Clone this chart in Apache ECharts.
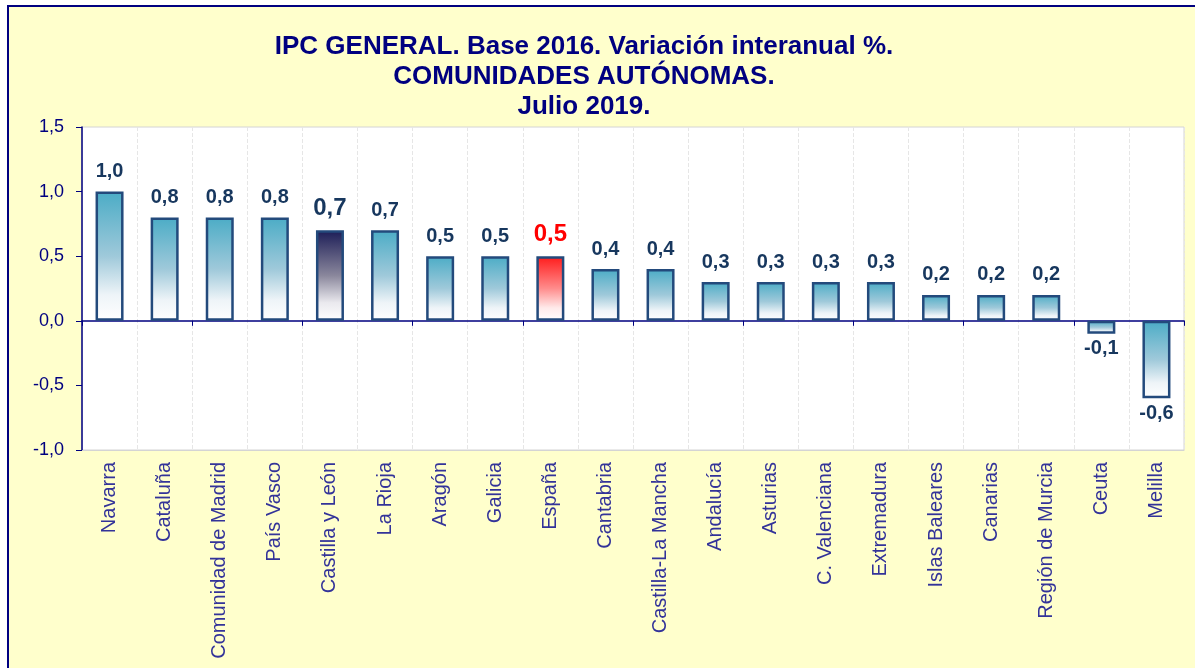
<!DOCTYPE html>
<html>
<head>
<meta charset="utf-8">
<script src="https://cdn.jsdelivr.net/npm/echarts@6/dist/echarts.min.js"></script>
<style>
  html, body { margin: 0; padding: 0; background: #ffffff; }
  #chart { width: 1195px; height: 668px; }
</style>
</head>
<body>
<div id="chart"></div>
<script>
// datos IPC julio 2019, variación interanual por CCAA
var categories = ['Navarra', 'Cataluña', 'Comunidad de Madrid', 'País Vasco', 'Castilla y León',
  'La Rioja', 'Aragón', 'Galicia', 'España', 'Cantabria', 'Castilla-La Mancha', 'Andalucía',
  'Asturias', 'C. Valenciana', 'Extremadura', 'Islas Baleares', 'Canarias', 'Región de Murcia',
  'Ceuta', 'Melilla'];
var values = [1.0, 0.8, 0.8, 0.8, 0.7, 0.7, 0.5, 0.5, 0.5, 0.4, 0.4, 0.3, 0.3, 0.3, 0.3, 0.2, 0.2, 0.2, -0.1, -0.6];
var titleLines = ['IPC GENERAL. Base 2016. Variación interanual %.', 'COMUNIDADES AUTÓNOMAS.', 'Julio 2019.'];

var FONT = '"Liberation Sans", Arial, sans-serif';

function grad(top, mid, bottom) {
    return new echarts.graphic.LinearGradient(0, 0, 0, 1, [
        { offset: 0, color: top },
        { offset: 0.5, color: mid },
        { offset: 0.8, color: bottom },
        { offset: 1, color: '#ffffff' }
    ]);
}

function fmt(v) {
    return v.toFixed(1).replace('.', ',');
}

var data = values.map(function(v, i) {
    var name = categories[i];
    var color = grad('#4BACC6', '#9FC9DA', '#EEF4F8');
    var lab = { color: '#17375E', fontSize: 20 };
    if (name === 'Castilla y León') {
        color = grad('#1C1D57', '#8A879C', '#EAE9EE');
        lab = { color: '#17375E', fontSize: 24 };
    }
    if (name === 'España') {
        color = grad('#FF1A1A', '#FF8C8C', '#FFEAEA');
        lab = { color: '#FF0000', fontSize: 24 };
    }
    lab.position = v < 0 ? 'bottom' : 'top';
    if (v < 0) lab.distance = 5;
    return { value: v, itemStyle: { color: color }, label: lab };
});

var myChart = echarts.init(document.getElementById('chart'));
myChart.setOption({
    backgroundColor: '#ffffff',
    animation: false,
    graphic: [{
        type: 'rect',
        z: -10,
        shape: { x: 8, y: 6, width: 1300, height: 800 },
        style: { fill: '#FFFFCC', stroke: '#000080', lineWidth: 2 }
    }],
    title: {
        text: titleLines.join('\n'),
        left: 579,
        textAlign: 'center',
        top: 27,
        textStyle: { fontFamily: FONT, fontSize: 26, fontWeight: 'bold', color: '#000080', lineHeight: 30 }
    },
    grid: {
        left: 82, right: 11, top: 127, bottom: 218,
        show: true, backgroundColor: '#ffffff', borderColor: '#D4D4D4', borderWidth: 1
    },
    xAxis: [{
        type: 'category',
        data: categories,
        position: 'bottom',
        axisLine: { onZero: false, lineStyle: { color: '#D4D4D4' } },
        axisTick: { show: false },
        axisLabel: { rotate: 90, margin: 12, color: '#333399', fontSize: 20, fontFamily: FONT, interval: 0 },
        splitLine: { show: true, lineStyle: { color: '#E6E6E6', type: 'dashed' } }
    }, {
        type: 'category',
        data: categories,
        position: 'bottom',
        axisLine: { onZero: true, lineStyle: { color: '#000080', width: 1.5 } },
        axisTick: { show: true, interval: 1, length: 5, lineStyle: { color: '#000080' } },
        axisLabel: { show: false },
        splitLine: { show: false }
    }],
    yAxis: {
        type: 'value',
        min: -1, max: 1.5, interval: 0.5,
        axisLine: { show: true, lineStyle: { color: '#000080', width: 1.5 } },
        axisTick: { show: true, length: 6, lineStyle: { color: '#000080' } },
        axisLabel: { margin: 18, color: '#000080', fontSize: 18, fontFamily: FONT, formatter: fmt },
        splitLine: { show: false }
    },
    series: [{
        type: 'bar',
        xAxisIndex: 0,
        data: data,
        barWidth: 28,
        itemStyle: { borderColor: '#234A7C', borderWidth: 2.5 },
        label: {
            show: true,
            distance: 10,
            fontFamily: FONT,
            fontWeight: 'bold',
            formatter: function(p) { return fmt(p.value); }
        }
    }]
});
</script>
</body>
</html>
